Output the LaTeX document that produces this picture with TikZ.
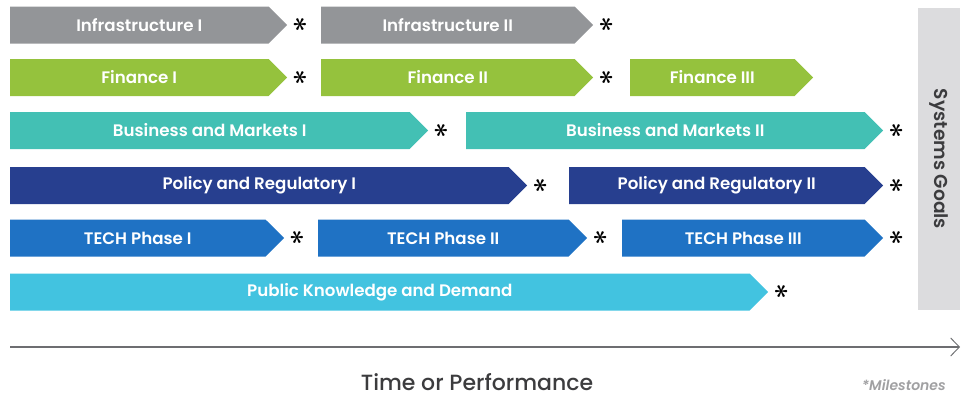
\documentclass[tikz,border=0pt]{standalone}
\usepackage{fontspec}
\setmainfont{Poppins}[BoldFont={Poppins SemiBold},BoldItalicFont={Poppins SemiBold Italic}]
\newfontfamily\mediumfont{Poppins}[BoldFont={Poppins Medium}]
\usetikzlibrary{shapes.symbols,positioning,arrows.meta}

\definecolor{infragray}{HTML}{939598}
\definecolor{financegreen}{HTML}{95C23D}
\definecolor{businessteal}{HTML}{43C0B4}
\definecolor{policynavy}{HTML}{273F8F}
\definecolor{techblue}{HTML}{1F72C4}
\definecolor{publicblue}{HTML}{42C3E0}
\definecolor{goalgray}{HTML}{DCDCDE}
\definecolor{axisgray}{HTML}{6D6E71}
\definecolor{labelgray}{HTML}{3C3C3E}
\definecolor{notegray}{HTML}{A0A0A2}

\newcommand{\milestone}{\rotatebox{90}{\boldmath$\ast$}}

\begin{document}
\begin{tikzpicture}[x=0.75pt,y=-0.75pt,line join=round,
  bar/.style={signal,signal to=east,signal pointer angle=90,anchor=west,
    minimum height=27.75pt,inner sep=0pt,outer sep=0pt,text=white,
    font=\fontsize{12.5}{15}\selectfont\bfseries},
  ms/.style={inner sep=0pt,font=\huge}]
  \def\px{0.75pt}
  \useasboundingbox (0,0) rectangle (966,396);
  % infrastructure
  \node[bar,fill=infragray,minimum width=277*\px] (infra1) at (10,25) {Infrastructure I};
  \node[ms,right=5pt of infra1] (infra1ms) {\milestone};
  \node[bar,fill=infragray,minimum width=272*\px] (infra2) at (321,25) {Infrastructure II};
  \node[ms,right=5pt of infra2] (infra2ms) {\milestone};
  % finance
  \node[bar,fill=financegreen,minimum width=277*\px] (fin1) at (10,77.5) {Finance I};
  \node[ms,right=5pt of fin1] (fin1ms) {\milestone};
  \node[bar,fill=financegreen,minimum width=272*\px] (fin2) at (321,77.5) {Finance II};
  \node[ms,right=5pt of fin2] (fin2ms) {\milestone};
  \node[bar,fill=financegreen,minimum width=183*\px] (fin3) at (630,77.5) {Finance III};
  % business and markets
  \node[bar,fill=businessteal,minimum width=418*\px] (bus1) at (10,130.5) {Business and Markets I};
  \node[ms,right=5pt of bus1] (bus1ms) {\milestone};
  \node[bar,fill=businessteal,minimum width=417*\px] (bus2) at (466,130.5) {Business and Markets II};
  \node[ms,right=5pt of bus2] (bus2ms) {\milestone};
  % policy
  \node[bar,fill=policynavy,minimum width=517*\px] (pol1) at (10,185.5) {Policy and Regulatory I};
  \node[ms,right=5pt of pol1] (pol1ms) {\milestone};
  \node[bar,fill=policynavy,minimum width=314*\px] (pol2) at (569,185.5) {Policy and Regulatory II};
  \node[ms,right=5pt of pol2] (pol2ms) {\milestone};
  % tech
  \node[bar,fill=techblue,minimum width=274*\px] (tech1) at (10,238) {TECH Phase I};
  \node[ms,right=5pt of tech1] (tech1ms) {\milestone};
  \node[bar,fill=techblue,minimum width=269*\px] (tech2) at (318,238) {TECH Phase II};
  \node[ms,right=5pt of tech2] (tech2ms) {\milestone};
  \node[bar,fill=techblue,minimum width=261*\px] (tech3) at (622,238) {TECH Phase III};
  \node[ms,right=5pt of tech3] (tech3ms) {\milestone};
  % public
  \node[bar,fill=publicblue,minimum width=758*\px] (pub) at (10,292) {Public Knowledge and Demand};
  \node[ms,right=5pt of pub] (pubms) {\milestone};
  % goals
  \node[fill=goalgray,rotate=-90,minimum width=302*\px,minimum height=42*\px,inner sep=0pt,
    text=labelgray,font=\fontsize{14}{16}\selectfont\bfseries] (goals) at (939,159) {Systems Goals};
  % axis
  \coordinate (axisstart) at (10,347);
  \coordinate (axisend) at (960,347);
  \draw[axisgray,line width=0.9pt,-{Straight Barb[length=6.5pt,width=13.5pt,line width=0.7pt]}] (axisstart) -- (axisend);
  \node[anchor=base,inner sep=0pt,text depth=0pt,text=labelgray,font=\mediumfont\fontsize{16.5}{19}\selectfont\bfseries] (axislabel) at (477,390) {Time or Performance};
  \node[anchor=base east,inner sep=0pt,text depth=0pt,text=notegray,font=\fontsize{10.5}{13}\selectfont\bfseries\itshape] (note) at (946,390) {*Milestones};
\end{tikzpicture}
\end{document}
